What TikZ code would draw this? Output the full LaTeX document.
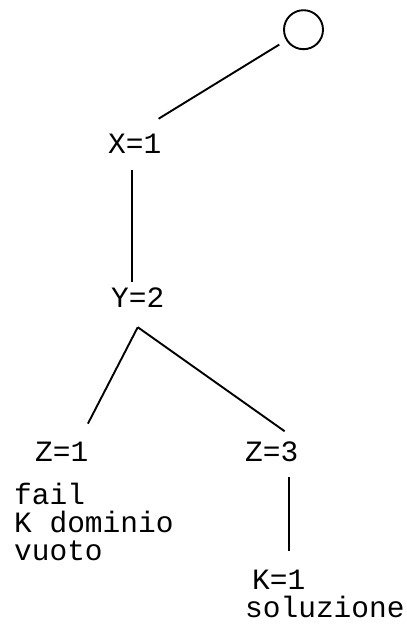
\documentclass[tikz,border=0pt]{standalone}
\usepackage{fontspec}
\newfontfamily\treefont{Liberation Mono}
\begin{document}
\begin{tikzpicture}[x=1pt,y=-1pt,
    lbl/.style={font=\treefont\fontsize{29.5}{28}\selectfont, inner sep=0pt, anchor=base west},
    branch/.style={line width=1.9pt}]
  \useasboundingbox (0,0) rectangle (407,625);
  % root of the search tree
  \node[draw, circle, line width=1.9pt, minimum size=39pt, inner sep=0pt] (root) at (303.5,29.7) {};

  % assignments
  \node[lbl] (x1) at (108,153) {X=1};
  \node[lbl] (y2) at (111,307) {Y=2};
  \node[lbl] (z1) at (35,461) {Z=1};
  \node[lbl] (z3) at (245,461) {Z=3};
  \node[lbl] (k1) at (252,589) {K=1};

  % outcomes
  \node[lbl, align=left] (fail) at (14,560) {fail\\K dominio\\vuoto};
  \node[lbl] (sol) at (245,617) {soluzione};

  % branches
  \draw[branch, shorten <=8pt, shorten >=28pt] (root) -- (x1.north);
  \draw[branch, shorten <=17pt, shorten >=5pt] ([xshift=-3pt]x1.south) -- ([xshift=-3pt]x1.south |- y2.north);
  \draw[branch, shorten >=20pt] ([yshift=-20pt]y2.south) -- ([xshift=17pt]z1.north);
  \draw[branch, shorten >=17pt] ([yshift=-20pt]y2.south) -- (z3.north east);
  \draw[branch, shorten <=16pt, shorten >=18pt] ([xshift=17pt]z3.south) -- ([xshift=17pt]z3.south |- k1.north);
\end{tikzpicture}
\end{document}
